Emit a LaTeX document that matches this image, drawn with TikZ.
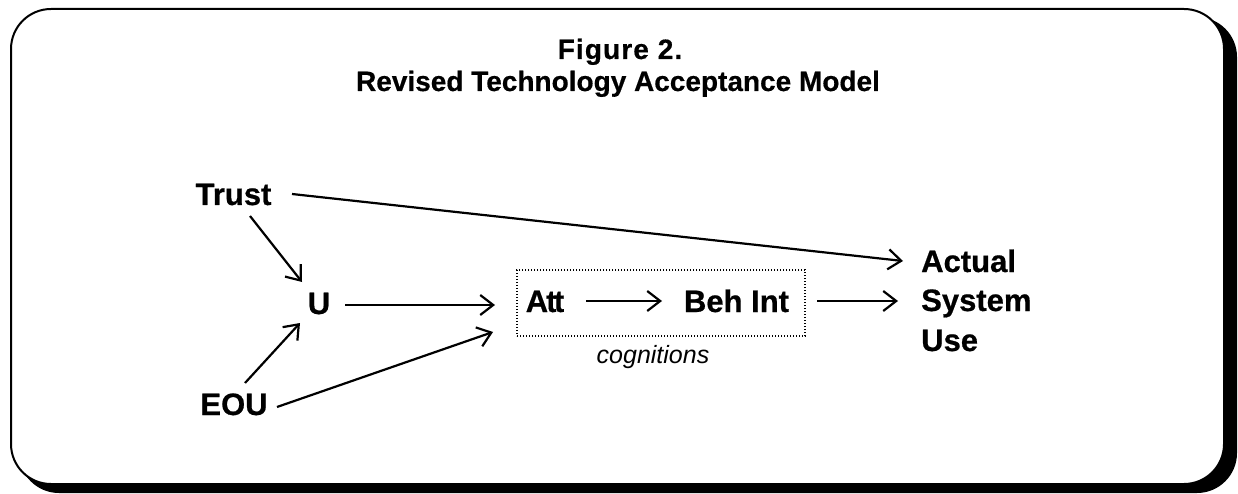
\documentclass[tikz,border=0pt]{standalone}
\usepackage{fontspec}
\setmainfont{Liberation Sans}
\usetikzlibrary{arrows.meta}
\tikzset{
  lbl/.style={font=\bfseries\fontsize{31}{36}\selectfont\addfontfeatures{FakeBold=0.6}, inner sep=0pt},
  ttl/.style={font=\bfseries\fontsize{28}{32}\selectfont\addfontfeatures{FakeBold=0.5}, inner sep=0pt},
  conn/.style={line width=2.2pt, -{Straight Barb[length=13pt,width=20pt,line width=2.2pt]}},
}
\begin{document}
\begin{tikzpicture}[x=1pt,y=-1pt]
\useasboundingbox (0,0) rectangle (1238,494);
% frame with shadow
\fill[black, rounded corners=40pt] (19,17) rectangle (1237,493);
\draw[line width=2pt, fill=white, rounded corners=40pt] (11,9) rectangle (1224,484);
% title
\node[ttl, anchor=base] (t1) at (620,59) {\addfontfeatures{LetterSpace=4}Figure 2.};
\node[ttl, anchor=base] (t2) at (618,91) {Revised Technology Acceptance Model};
% nodes
\node[lbl, anchor=base] (trust) at (233.5,205) {Trust};
\node[lbl, anchor=base] (u) at (319,314) {U};
\node[lbl, anchor=base] (eou) at (234,415) {EOU};
\node[lbl, anchor=base] (att) at (545,312) {A\kern-2pt t\kern-2.5pt t};
\node[lbl, anchor=base] (beh) at (736.5,312) {Beh Int};
\node[draw, dash pattern=on 1.4pt off 1.6pt, line width=1.2pt, minimum width=288pt, minimum height=66pt, inner sep=0pt] (box) at (661,303) {};
\node[font=\itshape\fontsize{25}{30}\selectfont, anchor=base, inner sep=0pt] (cog) at (653,363) {cognitions};
\node[lbl, anchor=base west] (act) at (921,272) {Actual};
\node[lbl, anchor=base west] (sys) at (921,311) {System};
\node[lbl, anchor=base west] (use) at (921,351) {Use};
% connector end points
\coordinate (trE) at (292,194);
\coordinate (trS) at (250,216);
\coordinate (uIn1) at (302,282);
\coordinate (uIn2) at (300,323);
\coordinate (eouN) at (245,383);
\coordinate (eouE) at (277,407);
\coordinate (uE) at (345,305);
\coordinate (boxIn1) at (495,305);
\coordinate (boxIn2) at (493,332);
\coordinate (attE) at (586,301);
\coordinate (behW) at (662,301);
\coordinate (boxOut) at (817,301);
\coordinate (actIn1) at (903,261);
\coordinate (actIn2) at (898,301);
\draw[conn] (trE) -- (actIn1);
\draw[conn] (trS) -- (uIn1);
\draw[conn] (eouN) -- (uIn2);
\draw[conn] (uE) -- (boxIn1);
\draw[conn] (eouE) -- (boxIn2);
\draw[conn] (attE) -- (behW);
\draw[conn] (boxOut) -- (actIn2);
\end{tikzpicture}
\end{document}
